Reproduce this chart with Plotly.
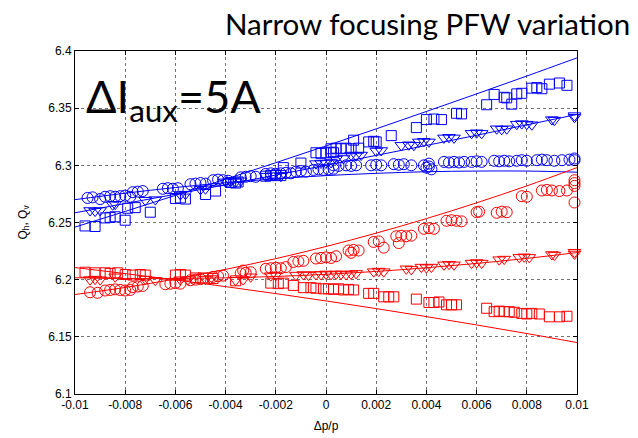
import plotly.graph_objects as go

# ---------------- data ----------------
x_ticks = [-0.01, -0.008, -0.006, -0.004, -0.002, 0, 0.002, 0.004, 0.006, 0.008, 0.01]
x_tick_labels = ["-0.01", "-0.008", "-0.006", "-0.004", "-0.002", "0", "0.002", "0.004", "0.006", "0.008", "0.01"]
y_ticks = [6.1, 6.15, 6.2, 6.25, 6.3, 6.35, 6.4]
y_tick_labels = ["6.1", "6.15", "6.2", "6.25", "6.3", "6.35", "6.4"]

# fitted / model curves, sampled at the grid positions
line_x = [-0.01, -0.008, -0.006, -0.004, -0.002, 0, 0.002, 0.004, 0.006, 0.008, 0.01]
blue_sq_line = [6.246, 6.2597, 6.2737, 6.2879, 6.3023, 6.317, 6.3319, 6.3471, 6.3625, 6.3781, 6.394]
blue_tri_line = [6.2585, 6.2666, 6.2747, 6.2830, 6.2915, 6.300, 6.3087, 6.3174, 6.3263, 6.3354, 6.3445]
blue_circ_line = [6.270, 6.2756, 6.2806, 6.2848, 6.2882, 6.291, 6.2930, 6.2944, 6.2950, 6.2950, 6.294]
red_sq_line = [6.2106, 6.2053, 6.1998, 6.1939, 6.1878, 6.1814, 6.1747, 6.1677, 6.1604, 6.1529, 6.145]
red_circ_line = [6.187, 6.1932, 6.2006, 6.2090, 6.2184, 6.229, 6.2407, 6.2534, 6.2672, 6.2820, 6.298]
red_tri_line = [6.2017, 6.2010, 6.2010, 6.2016, 6.2028, 6.2047, 6.2072, 6.2104, 6.2142, 6.2186, 6.2237]

blue_circ_x = [-0.0095, -0.0093, -0.0090, -0.0088, -0.0086, -0.0084, -0.0082, -0.0080, -0.0078,
               -0.0077, -0.0075, -0.0073, -0.0065, -0.0063, -0.0061, -0.0059,
               -0.0054, -0.0052, -0.0050, -0.0048, -0.0045, -0.0043, -0.0041, -0.0039,
               -0.0034, -0.0032, -0.0030, -0.0028, -0.0024, -0.0022, -0.0020, -0.0018, -0.0016, -0.0014,
               -0.0012, -0.0010, -0.0008, -0.0005, -0.0003, -0.0001, 0.0001, 0.0003,
               0.0003, 0.0005, 0.0008, 0.0010, 0.0012, 0.0018, 0.0020, 0.0022,
               0.0027, 0.0029, 0.0031, 0.0034, 0.0039, 0.0040, 0.0041, 0.0042, 0.0041,
               0.0047, 0.0049, 0.0051, 0.0053, 0.0055, 0.0058, 0.0060, 0.0062,
               0.0067, 0.0069, 0.0071, 0.0073, 0.0076, 0.0078, 0.0080,
               0.0084, 0.0086, 0.0088, 0.0091, 0.0094, 0.0097, 0.0099, 0.0099]
blue_circ_y = [6.2715, 6.272, 6.2705, 6.2725, 6.273, 6.2725, 6.273, 6.2735, 6.2725,
               6.2765, 6.277, 6.2775, 6.2795, 6.280, 6.2795, 6.280,
               6.2835, 6.284, 6.2845, 6.284, 6.287, 6.2875, 6.287, 6.2865,
               6.2895, 6.290, 6.2905, 6.290, 6.2925, 6.293, 6.2925, 6.293, 6.2935, 6.293,
               6.2945, 6.295, 6.2945, 6.296, 6.2965, 6.296, 6.2965, 6.297,
               6.300, 6.2995, 6.300, 6.2995, 6.300, 6.300, 6.3005, 6.300,
               6.301, 6.3005, 6.301, 6.300, 6.300, 6.298, 6.3015, 6.2965, 6.299,
               6.303, 6.3025, 6.303, 6.3025, 6.303, 6.303, 6.3035, 6.303,
               6.304, 6.3035, 6.304, 6.3035, 6.304, 6.3045, 6.304,
               6.3045, 6.305, 6.3045, 6.304, 6.3045, 6.305, 6.306, 6.3045]

blue_tri_x = [-0.0094, -0.0092, -0.0090, -0.0085, -0.0084, -0.0072, -0.0068, -0.0058, -0.0056,
              -0.0050, -0.0048, -0.0040, -0.0038, -0.0036, -0.0034, -0.0024, -0.0021, -0.0018,
              -0.0004, -0.0002, 0.0000, 0.0002, 0.0004, 0.0007, 0.0010, 0.0012, 0.0014,
              0.0020, 0.0022, 0.0030, 0.0033, 0.0035, 0.0037, 0.0039, 0.0041,
              0.0047, 0.0049, 0.0051, 0.0058, 0.0060, 0.0062, 0.0068, 0.0070, 0.0072,
              0.0076, 0.0078, 0.0080, 0.0082, 0.0090, 0.0091, 0.0099, 0.0099]
blue_tri_y = [6.2605, 6.260, 6.2605, 6.2655, 6.266, 6.2695, 6.270, 6.2745, 6.2748,
              6.279, 6.2795, 6.2855, 6.2860, 6.2855, 6.2865, 6.2905, 6.291, 6.2905,
              6.3015, 6.302, 6.302, 6.3025, 6.3055, 6.306, 6.309, 6.3085, 6.309,
              6.3125, 6.313, 6.3175, 6.318, 6.3175, 6.3205, 6.321, 6.3205,
              6.324, 6.3245, 6.324, 6.328, 6.3285, 6.328, 6.332, 6.3315, 6.332,
              6.336, 6.3365, 6.336, 6.3355, 6.340, 6.3395, 6.3435, 6.342]

blue_sq_x = [-0.0096, -0.0092, -0.0088, -0.0086, -0.0084, -0.0080, -0.0079, -0.0076, -0.0070,
             -0.0060, -0.0058, -0.0056, -0.0048, -0.0044, -0.0038, -0.0036, -0.0035,
             -0.0024, -0.0022, -0.0020, -0.0018, -0.0017, -0.0010,
             -0.0004, -0.0002, 0.0000, 0.0002, 0.0003,
             0.0002, 0.0004, 0.0006, 0.0008, 0.0010, 0.0013, 0.0011,
             0.0017, 0.0019, 0.0020, 0.0026, 0.0036, 0.0040, 0.0043, 0.0046,
             0.0052, 0.0054, 0.0064, 0.0067, 0.0071, 0.0072, 0.0074, 0.0076, 0.0078,
             0.0082, 0.0084, 0.0086, 0.0089, 0.0093, 0.0096]
blue_sq_y = [6.247, 6.2465, 6.254, 6.2545, 6.255, 6.252, 6.2625, 6.263, 6.259,
             6.271, 6.2715, 6.2705, 6.2745, 6.2775, 6.285, 6.2845, 6.2855,
             6.2905, 6.291, 6.2915, 6.291, 6.298, 6.302,
             6.311, 6.3105, 6.311, 6.3115, 6.311,
             6.3145, 6.315, 6.3145, 6.315, 6.3145, 6.315, 6.322,
             6.3205, 6.321, 6.3205, 6.326, 6.333, 6.340, 6.3405, 6.340,
             6.3455, 6.345, 6.353, 6.362, 6.3595, 6.359, 6.3535, 6.3625, 6.363,
             6.3675, 6.368, 6.367, 6.371, 6.372, 6.370]

red_sq_x = [-0.0096, -0.0092, -0.0088, -0.0086, -0.0083, -0.0080, -0.0077, -0.0074, -0.0072,
            -0.0060, -0.0058, -0.0056, -0.0052, -0.0049, -0.0045, -0.0036,
            -0.0022, -0.0019, -0.0017, -0.0013, -0.0009, -0.0006, -0.0004,
            -0.0001, 0.0001, 0.0003, 0.0005, 0.0007, 0.0009, 0.0011,
            0.0017, 0.0019, 0.0023, 0.0025, 0.0027, 0.0036, 0.0041, 0.0043, 0.0045,
            0.0048, 0.0050, 0.0052, 0.0064, 0.0067, 0.0069, 0.0071, 0.0073, 0.0075,
            0.0078, 0.0080, 0.0082, 0.0085, 0.0089, 0.0093, 0.0096]
red_sq_y = [6.2065, 6.206, 6.206, 6.2055, 6.206, 6.2045, 6.204, 6.2045, 6.204,
            6.204, 6.2045, 6.204, 6.2015, 6.2015, 6.201, 6.199,
            6.197, 6.1965, 6.197, 6.195, 6.193, 6.193, 6.1925,
            6.192, 6.192, 6.1915, 6.192, 6.191, 6.1915, 6.191,
            6.188, 6.188, 6.185, 6.185, 6.185, 6.183, 6.180, 6.180, 6.1805,
            6.178, 6.178, 6.178, 6.175, 6.172, 6.1725, 6.172, 6.172, 6.1715,
            6.1705, 6.170, 6.1705, 6.170, 6.1675, 6.1675, 6.168]

red_tri_x = [-0.0094, -0.0092, -0.0090, -0.0084, -0.0072, -0.0068, -0.0058, -0.0055,
             -0.0048, -0.0046, -0.0036, -0.0033, -0.0030, -0.0022, -0.0020,
             -0.0012, -0.0009, -0.0007, -0.0004, -0.0002, 0.0000, 0.0002, 0.0004, 0.0006, 0.0008,
             0.0010, 0.0012, 0.0019, 0.0021, 0.0023, 0.0032, 0.0034, 0.0038, 0.0040, 0.0042,
             0.0047, 0.0049, 0.0051, 0.0058, 0.0060, 0.0062, 0.0069, 0.0071,
             0.0077, 0.0079, 0.0081, 0.0090, 0.0091, 0.0099, 0.0099]
red_tri_y = [6.200, 6.2005, 6.200, 6.2025, 6.2005, 6.1995, 6.200, 6.200,
             6.2005, 6.201, 6.1995, 6.200, 6.2025, 6.2035, 6.204,
             6.204, 6.2045, 6.204, 6.2045, 6.2045, 6.205, 6.2045, 6.205, 6.205, 6.2045,
             6.205, 6.2055, 6.207, 6.2075, 6.207, 6.2095, 6.209, 6.211, 6.2105, 6.211,
             6.213, 6.2135, 6.213, 6.2145, 6.215, 6.2145, 6.2175, 6.218,
             6.2195, 6.220, 6.2195, 6.222, 6.2215, 6.224, 6.2225]

red_circ_x = [-0.0094, -0.0091, -0.0088, -0.0086, -0.0084, -0.0082, -0.0080, -0.0078,
              -0.0077, -0.0075, -0.0073, -0.0064, -0.0062, -0.0060, -0.0058,
              -0.0054, -0.0052, -0.0050, -0.0045, -0.0043, -0.0041,
              -0.0034, -0.0032, -0.0030, -0.0033, -0.0024, -0.0022, -0.0020, -0.0018, -0.0016,
              -0.0013, -0.0011, -0.0009, -0.0004, -0.0002, 0.0000, 0.0002, 0.0004,
              0.0009, 0.0011, 0.0013, 0.0010, 0.0019, 0.0021, 0.0023,
              0.0028, 0.0030, 0.0032, 0.0034, 0.0029, 0.0039, 0.0041, 0.0043,
              0.0048, 0.0050, 0.0052, 0.0054, 0.0060, 0.0061, 0.0068, 0.0070, 0.0072,
              0.0078, 0.0080, 0.0086, 0.0088, 0.0090, 0.0093, 0.0096,
              0.0099, 0.0099, 0.0099, 0.0099]
red_circ_y = [6.189, 6.1885, 6.1905, 6.191, 6.1915, 6.191, 6.1905, 6.191,
              6.1935, 6.194, 6.1945, 6.196, 6.1965, 6.197, 6.1965,
              6.1995, 6.200, 6.2005, 6.2025, 6.203, 6.2035,
              6.2055, 6.206, 6.2065, 6.208, 6.2095, 6.210, 6.2105, 6.210, 6.211,
              6.2155, 6.216, 6.2165, 6.2185, 6.219, 6.2195, 6.219, 6.2205,
              6.2255, 6.226, 6.2255, 6.2235, 6.233, 6.2335, 6.228,
              6.238, 6.2385, 6.238, 6.2385, 6.232, 6.2445, 6.245, 6.2445,
              6.2515, 6.252, 6.2515, 6.251, 6.259, 6.2595, 6.2585, 6.2595, 6.259,
              6.273, 6.2725, 6.278, 6.2785, 6.278, 6.2775, 6.278,
              6.282, 6.287, 6.2845, 6.2675]

BLUE = "#0000ff"
RED = "#ff0000"

fig = go.Figure()


def add_line(y, color):
    fig.add_trace(go.Scatter(x=line_x, y=y, mode="lines",
                             line=dict(color=color, width=1, shape="spline"),
                             hoverinfo="skip", showlegend=False))


def add_markers(x, y, color, symbol, size):
    fig.add_trace(go.Scatter(x=x, y=y, mode="markers", cliponaxis=False,
                             marker=dict(symbol=symbol, size=size, color=color,
                                         line=dict(color=color, width=1)),
                             showlegend=False))


add_markers(blue_circ_x, blue_circ_y, BLUE, "circle-open", 11)
add_markers(blue_tri_x, blue_tri_y, BLUE, "triangle-down-open", 11)
add_markers(blue_sq_x, blue_sq_y, BLUE, "square-open", 10)
add_markers(red_circ_x, red_circ_y, RED, "circle-open", 11)
add_markers(red_tri_x, red_tri_y, RED, "triangle-down-open", 11)
add_markers(red_sq_x, red_sq_y, RED, "square-open", 10)

add_line(blue_sq_line, BLUE)
add_line(blue_tri_line, BLUE)
add_line(blue_circ_line, BLUE)
add_line(red_sq_line, RED)
add_line(red_circ_line, RED)
add_line(red_tri_line, RED)

tick_font = dict(family="Liberation Sans, Arial, sans-serif", size=12, color="#000")

fig.update_layout(
    width=638, height=438, autosize=False,
    margin=dict(l=75, r=61, t=51, b=44),
    paper_bgcolor="white", plot_bgcolor="white",
    xaxis=dict(range=[-0.01, 0.01], tickvals=x_ticks, ticktext=x_tick_labels,
               ticks="inside", ticklen=4, tickcolor="#000", mirror="ticks",
               showline=True, linecolor="#000", linewidth=1, automargin=False,
               showgrid=True, gridcolor="rgba(0,0,0,0.55)", griddash="dot", gridwidth=1,
               zeroline=False, tickfont=tick_font,
               title=dict(text="Δp/p", font=tick_font, standoff=10)),
    yaxis=dict(range=[6.1, 6.4], tickvals=y_ticks, ticktext=y_tick_labels,
               ticks="inside", ticklen=4, tickcolor="#000", mirror="ticks",
               showline=True, linecolor="#000", linewidth=1, automargin=False,
               showgrid=True, gridcolor="rgba(0,0,0,0.55)", griddash="dot", gridwidth=1,
               zeroline=False, tickfont=tick_font,
               title=dict(text="Q<sub>h</sub>, Q<sub>v</sub>", font=tick_font, standoff=18)),
    annotations=[
        dict(text="Narrow focusing PFW variation", xref="paper", yref="paper",
             x=1.1096, y=1.08, xanchor="right", yanchor="middle", showarrow=False,
             font=dict(family="Lato, sans-serif", size=29.5, color="#000")),
        dict(text="ΔI<sub>aux</sub>=5A", xref="paper", yref="paper",
             x=0.018, y=0.86, xanchor="left", yanchor="middle", showarrow=False,
             font=dict(family="Lato, sans-serif", size=45, color="#000")),
    ],
)

fig.write_html("out.html")
